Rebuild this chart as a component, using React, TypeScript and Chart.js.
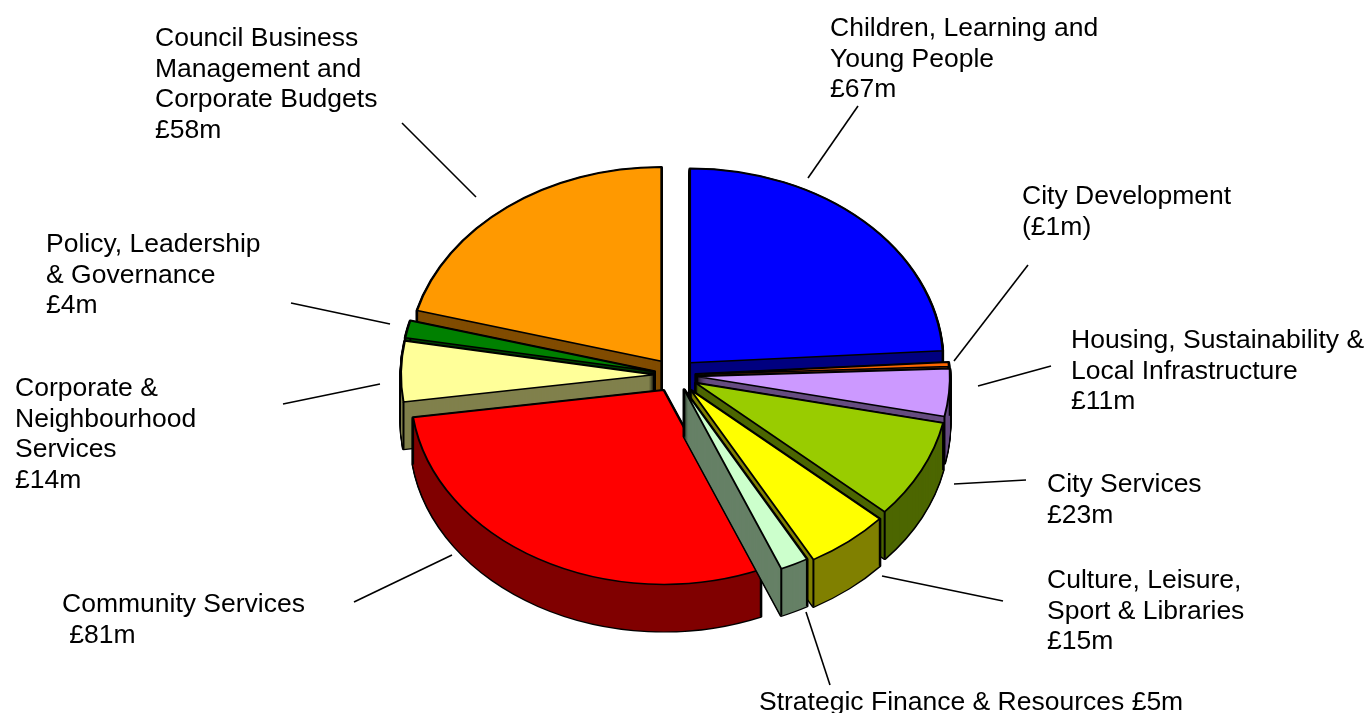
import React, { useEffect, useRef } from "react";
import { Chart, registerables } from "chart.js";

Chart.register(...registerables);

// Budget per portfolio in £m, clockwise from twelve o'clock. City Development is a net credit.
const portfolios = [
  "Children, Learning and Young People",
  "City Development",
  "Housing, Sustainability & Local Infrastructure",
  "City Services",
  "Culture, Leisure, Sport & Libraries",
  "Strategic Finance & Resources",
  "Community Services",
  "Corporate & Neighbourhood Services",
  "Policy, Leadership & Governance",
  "Council Business Management and Corporate Budgets",
];
const budgets = [67, -1, 11, 23, 15, 5, 81, 14, 4, 58];
const topColours = ["#0000ff", "#ff6600", "#cc99ff", "#99cc00", "#ffff00", "#ccffcc", "#ff0000", "#ffff99", "#008000", "#ff9900"];
const sideColours = ["#000080", "#803300", "#664c80", "#4c6600", "#808000", "#668066", "#800000", "#80804c", "#004000", "#804c00"];
// Distance each slice is pulled away from the centre of the disc.
const explodeBySlice = [22, 21, 22, 23, 25, 21, 23, 21, 21, 22.5];

// Callout text and its leader line: [x, first baseline, lines, leader x1, y1, x2, y2]
type Callout = { x: number; y: number; lines: string[]; leader: number[] };
const callouts: Callout[] = [
  { x: 830, y: 36, lines: ["Children, Learning and", "Young People", "£67m"], leader: [858, 106, 808, 178] },
  { x: 1022, y: 204, lines: ["City Development", "(£1m)"], leader: [1028, 265, 954, 361] },
  { x: 1071, y: 348, lines: ["Housing, Sustainability &", "Local Infrastructure", "£11m"], leader: [1051, 366, 978, 386] },
  { x: 1047, y: 492, lines: ["City Services", "£23m"], leader: [1026, 480, 954, 484] },
  { x: 1047, y: 588, lines: ["Culture, Leisure,", "Sport & Libraries", "£15m"], leader: [1003, 601, 882, 576] },
  { x: 759, y: 710, lines: ["Strategic Finance & Resources £5m"], leader: [830, 685, 806, 612] },
  { x: 62, y: 612, lines: ["Community Services", " £81m"], leader: [354, 602, 452, 555] },
  { x: 15, y: 396, lines: ["Corporate &", "Neighbourhood", "Services", "£14m"], leader: [283, 404, 380, 384] },
  { x: 46, y: 252, lines: ["Policy, Leadership", "& Governance", "£4m"], leader: [291, 303, 390, 324] },
  { x: 155, y: 46, lines: ["Council Business", "Management and", "Corporate Budgets", "£58m"], leader: [402, 123, 476, 197] },
];

const TILT = 0.767; // vertical squash of the pie disc
const DEPTH = 47; // thickness of the disc in pixels
const OUTLINE = 2;
const LINE_HEIGHT = 30.6;

function styleFor(fill: string, stroke: string, width: number) {
  return {
    backgroundColor: fill,
    borderColor: stroke,
    borderWidth: width,
    borderAlign: "center",
    borderJoinStyle: "round",
    borderRadius: 0,
    borderDash: [],
    borderDashOffset: 0,
    spacing: 0,
    offset: 0,
    circular: true,
  };
}

// Draws each arc element as a tilted, exploded, extruded slice, back to front.
const tiltedPie = {
  id: "tiltedPie",
  beforeDatasetDraw(chart: any) {
    const ctx = chart.ctx as CanvasRenderingContext2D;
    const arcs = chart.getDatasetMeta(0).data as any[];
    const midAngle = (a: any) => (a.startAngle + a.endAngle) / 2;
    const order = arcs.map((_, i) => i).sort((p, q) => Math.sin(midAngle(arcs[p])) - Math.sin(midAngle(arcs[q])));

    order.forEach((i) => {
      const arc = arcs[i];
      const original = arc.options;
      const mid = midAngle(arc);
      const ex = Math.cos(mid) * explodeBySlice[i];
      const ey = Math.sin(mid) * explodeBySlice[i] * TILT;
      const paint = (drop: number) => {
        ctx.save();
        ctx.translate(arc.x + ex, arc.y + ey + drop);
        ctx.scale(1, TILT);
        ctx.translate(-arc.x, -arc.y);
        arc.draw(ctx);
        ctx.restore();
      };

      // Outline of the swept body, then its fill leaving only the outer half of the stroke.
      arc.options = styleFor("#000000", "#000000", OUTLINE * 1.6);
      for (let d = DEPTH; d >= 0; d--) paint(d);
      arc.options = styleFor(sideColours[i], sideColours[i], 0);
      for (let d = DEPTH; d >= 0; d--) paint(d);

      // Vertical edges at the tip and at both rim corners.
      ctx.save();
      ctx.strokeStyle = "#000000";
      ctx.lineWidth = OUTLINE;
      const corners = [
        [arc.x + ex, arc.y + ey],
        [arc.x + ex + Math.cos(arc.startAngle) * arc.outerRadius, arc.y + ey + Math.sin(arc.startAngle) * arc.outerRadius * TILT],
        [arc.x + ex + Math.cos(arc.endAngle) * arc.outerRadius, arc.y + ey + Math.sin(arc.endAngle) * arc.outerRadius * TILT],
      ];
      corners.forEach(([x, y]) => {
        ctx.beginPath();
        ctx.moveTo(x, y);
        ctx.lineTo(x, y + DEPTH);
        ctx.stroke();
      });
      ctx.restore();

      arc.options = styleFor(topColours[i], "#000000", OUTLINE);
      paint(0);
      arc.options = original;
    });
    return false;
  },
  afterDraw(chart: any) {
    const ctx = chart.ctx as CanvasRenderingContext2D;
    ctx.save();
    ctx.font = '26.5px "Liberation Sans", Arial, sans-serif';
    ctx.fillStyle = "#000000";
    ctx.strokeStyle = "#000000";
    ctx.lineWidth = 1.6;
    ctx.textBaseline = "alphabetic";
    callouts.forEach(({ x, y, lines, leader }) => {
      lines.forEach((line, n) => ctx.fillText(line, x, y + n * LINE_HEIGHT));
      ctx.beginPath();
      ctx.moveTo(leader[0], leader[1]);
      ctx.lineTo(leader[2], leader[3]);
      ctx.stroke();
    });
    ctx.restore();
  },
};

export default function App() {
  const canvasRef = useRef<HTMLCanvasElement>(null);

  useEffect(() => {
    const chart = new Chart(canvasRef.current!, {
      type: "pie",
      data: {
        labels: portfolios,
        datasets: [{ data: budgets, backgroundColor: topColours, borderColor: "#000000", borderWidth: OUTLINE }],
      },
      options: {
        animation: false,
        responsive: false,
        layout: { padding: { left: 421, right: 438, top: 121, bottom: 84 } },
        plugins: { legend: { display: false }, tooltip: { enabled: false } },
      },
      plugins: [tiltedPie],
    } as any);
    return () => chart.destroy();
  }, []);

  return (
    <canvas
      ref={canvasRef}
      width={1367}
      height={713}
      style={{ position: "fixed", left: 0, top: 0, display: "block", background: "#ffffff" }}
    />
  );
}
